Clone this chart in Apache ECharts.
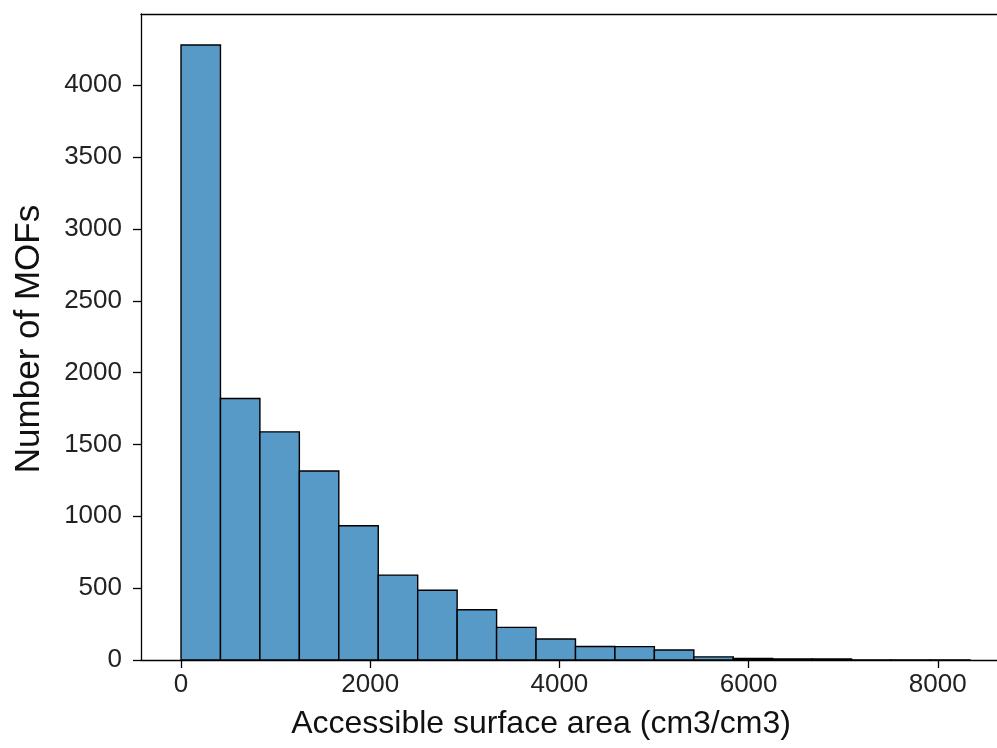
<!DOCTYPE html>
<html>
<head>
<meta charset="utf-8">
<script src="https://cdn.jsdelivr.net/npm/echarts@6/dist/echarts.min.js"></script>
<style>
html,body{margin:0;padding:0;background:#fff;}
#main{width:997px;height:748px;}
</style>
</head>
<body>
<div id="main"></div>
<script>
// Histogram bin edges (cm3/cm3)
const binEdges = [0, 417, 834, 1251, 1668, 2085, 2502, 2919, 3336, 3753, 4170,
                  4587, 5004, 5421, 5838, 6255, 6672, 7089, 7506, 7923, 8340];
// Number of MOFs per bin
const counts = [4280, 1820, 1588, 1315, 934, 591, 485, 350, 227, 146,
                94, 93, 70, 22, 10, 8, 7, 1, 1, 1];
const xTicks = [0, 2000, 4000, 6000, 8000];
const yTicks = [0, 500, 1000, 1500, 2000, 2500, 3000, 3500, 4000];
const xTitle = 'Accessible surface area (cm3/cm3)';
const yTitle = 'Number of MOFs';

const data = counts.map((c, i) => [binEdges[i], binEdges[i + 1], c]);

const FONT = 'Liberation Sans, Arial, sans-serif';
const plain = v => String(v);
const chart = echarts.init(document.getElementById('main'), null, {renderer: 'canvas'});
chart.setOption({
  animation: false,
  backgroundColor: '#fff',
  grid: {left: 141, top: 14, right: 0, bottom: 88, containLabel: false},
  xAxis: [{
    type: 'value', min: -423, max: 8626,
    splitLine: {show: false},
    axisLine: {show: true, onZero: false, lineStyle: {color: '#000', width: 1.3}},
    axisTick: {show: true, length: 8, lineStyle: {color: '#000', width: 1.3}, customValues: xTicks},
    axisLabel: {color: '#222', fontSize: 26, fontFamily: FONT, margin: 12, customValues: xTicks, formatter: plain}
  }, {
    type: 'value', position: 'top', min: -423, max: 8626,
    splitLine: {show: false},
    axisLine: {show: true, onZero: false, lineStyle: {color: '#000', width: 1.3}},
    axisTick: {show: false}, axisLabel: {show: false}
  }],
  yAxis: {
    type: 'value', min: 0, max: 4496,
    splitLine: {show: false},
    axisLine: {show: true, onZero: false, lineStyle: {color: '#000', width: 1.3}},
    axisTick: {show: true, length: 8, lineStyle: {color: '#000', width: 1.3}, customValues: yTicks},
    axisLabel: {color: '#222', fontSize: 26, fontFamily: FONT, margin: 19, customValues: yTicks, formatter: plain}
  },
  graphic: [
    {type: 'text', x: 541, y: 724,
     style: {text: xTitle, font: '32px ' + FONT, fill: '#111', textAlign: 'center', textVerticalAlign: 'middle'}},
    {type: 'text', x: 29, y: 339, rotation: Math.PI / 2,
     style: {text: yTitle, font: '35px ' + FONT, fill: '#111', textAlign: 'center', textVerticalAlign: 'middle'}}
  ],
  series: [{
    type: 'custom',
    xAxisIndex: 0,
    data: data,
    encode: {x: [0, 1], y: 2},
    renderItem: function (params, api) {
      const x0 = api.value(0), x1 = api.value(1), y = api.value(2);
      const p0 = api.coord([x0, y]);
      const p1 = api.coord([x1, 0]);
      return {
        type: 'rect',
        shape: {x: p0[0], y: p0[1], width: p1[0] - p0[0], height: p1[1] - p0[1]},
        style: {fill: '#5799c7', stroke: '#000', lineWidth: 1.4}
      };
    }
  }]
});
</script>
</body>
</html>
